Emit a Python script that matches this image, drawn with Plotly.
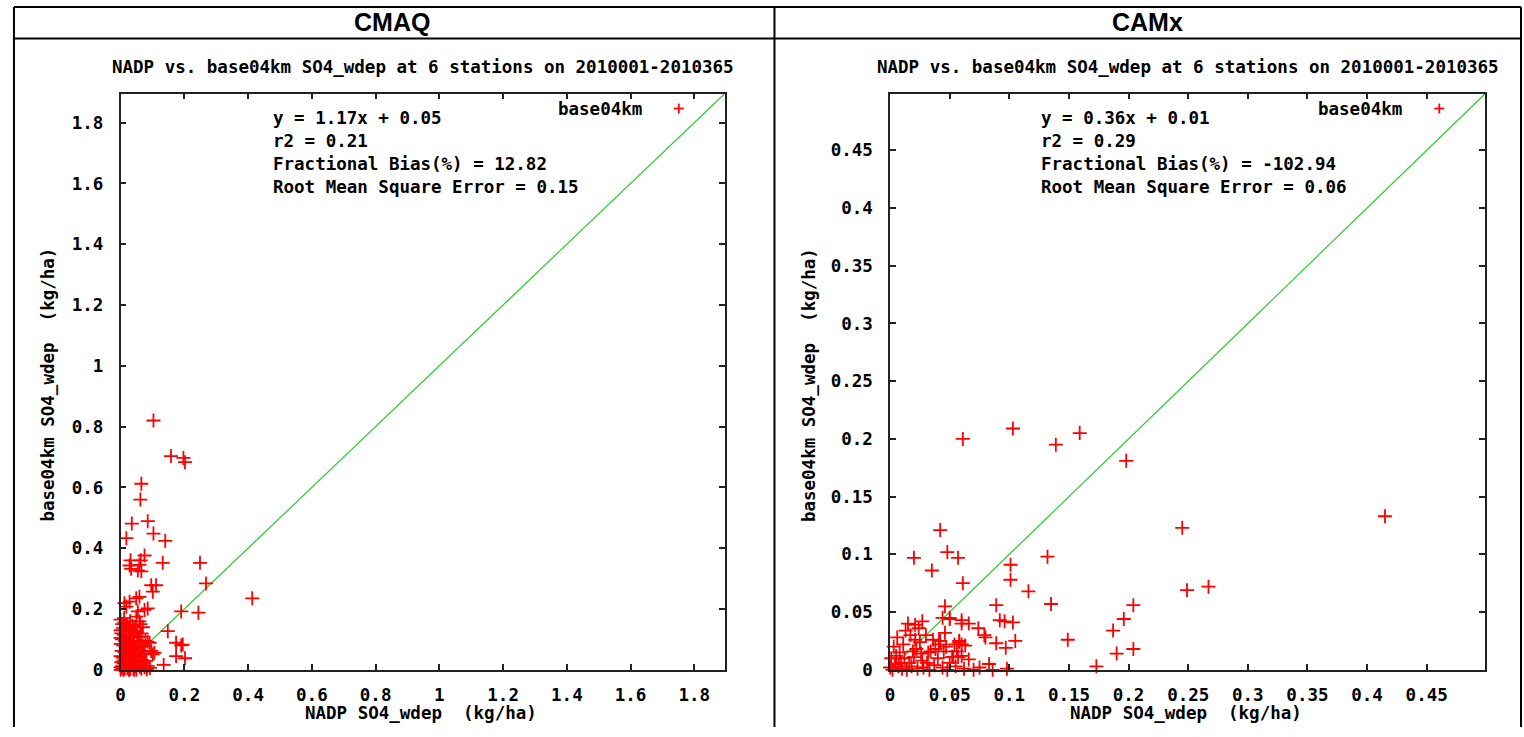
import plotly.graph_objects as go

W, H = 1524, 737

# ---- CMAQ: NADP observed vs. base04km modelled SO4 wet deposition (kg/ha)
cmaq_obs = [
    0.103, 0.158, 0.197, 0.202, 0.065, 0.062, 0.035, 0.085, 0.018, 0.103,
    0.140, 0.075, 0.031, 0.063, 0.132, 0.249, 0.028, 0.059, 0.033, 0.054,
    0.065, 0.268, 0.413, 0.096, 0.111, 0.101, 0.059, 0.049, 0.028, 0.012,
    0.018, 0.085, 0.075, 0.054, 0.049, 0.059, 0.190, 0.244, 0.148, 0.174,
    0.195, 0.190, 0.174, 0.202, 0.135, 0.096, 0.101, 0.106, 0.085, 0.091,
    0.080, 0.085,
    0.000, 0.005, 0.012, 0.020, 0.030, 0.008, 0.015, 0.025, 0.035, 0.045,
    0.002, 0.010, 0.018, 0.028, 0.040, 0.050, 0.060, 0.004, 0.014, 0.022,
    0.032, 0.042, 0.055, 0.065, 0.072, 0.000, 0.008, 0.016, 0.026, 0.036,
    0.046, 0.058, 0.068, 0.003, 0.012, 0.020, 0.030, 0.040, 0.050, 0.062,
    0.000, 0.007, 0.015, 0.024, 0.034, 0.044, 0.054, 0.070, 0.002, 0.010,
    0.018, 0.027, 0.037, 0.048, 0.060, 0.075, 0.000, 0.006, 0.013, 0.021,
    0.030, 0.040, 0.050, 0.065, 0.082, 0.000, 0.004, 0.009, 0.017, 0.023,
    0.033, 0.038, 0.052, 0.066, 0.011, 0.000, 0.000, 0.029, 0.045, 0.056,
    0.078, 0.070, 0.062, 0.026, 0.043, 0.009, 0.092, 0.058, 0.076, 0.019,
]
cmaq_mod = [
    0.820, 0.703, 0.697, 0.683, 0.612, 0.560, 0.481, 0.489, 0.433, 0.448,
    0.424, 0.376, 0.360, 0.360, 0.352, 0.352, 0.343, 0.345, 0.332, 0.327,
    0.324, 0.284, 0.235, 0.278, 0.278, 0.257, 0.240, 0.235, 0.224, 0.219,
    0.208, 0.202, 0.197, 0.192, 0.175, 0.159, 0.192, 0.188, 0.127, 0.089,
    0.083, 0.080, 0.045, 0.038, 0.016, 0.062, 0.051, 0.056, 0.092, 0.089,
    0.029, 0.013,
    0.165, 0.150, 0.155, 0.148, 0.160, 0.138, 0.130, 0.135, 0.128, 0.140,
    0.120, 0.115, 0.110, 0.118, 0.112, 0.125, 0.108, 0.100, 0.095, 0.098,
    0.092, 0.088, 0.095, 0.085, 0.078, 0.085, 0.080, 0.075, 0.082, 0.070,
    0.072, 0.065, 0.060, 0.062, 0.058, 0.065, 0.055, 0.050, 0.048, 0.042,
    0.045, 0.040, 0.038, 0.042, 0.035, 0.030, 0.028, 0.022, 0.025, 0.020,
    0.022, 0.018, 0.015, 0.012, 0.010, 0.008, 0.008, 0.005, 0.003, 0.006,
    0.002, 0.004, 0.001, 0.003, 0.002, 0.000, 0.012, 0.030, 0.050, 0.070,
    0.105, 0.145, 0.110, 0.120, 0.170, 0.130, 0.105, 0.028, 0.060, 0.078,
    0.095, 0.140, 0.150, 0.000, 0.000, 0.000, 0.006, 0.034, 0.052, 0.088,
]

# ---- CAMx: NADP observed vs. base04km modelled SO4 wet deposition (kg/ha)
camx_obs = [
    0.103, 0.061, 0.159, 0.139, 0.198, 0.042, 0.020, 0.035, 0.048, 0.057,
    0.061, 0.101, 0.101, 0.132, 0.116, 0.135, 0.089, 0.092, 0.096, 0.103,
    0.105, 0.089, 0.097, 0.149, 0.173, 0.187, 0.196, 0.204, 0.190, 0.204,
    0.074, 0.079, 0.080, 0.066, 0.060, 0.060, 0.046, 0.044, 0.050, 0.058,
    0.060, 0.066, 0.083, 0.098, 0.041, 0.052, 0.057, 0.245, 0.249, 0.267,
    0.415,
    0.027, 0.021, 0.024, 0.013, 0.006, 0.021, 0.042, 0.041, 0.034, 0.032,
    0.038, 0.054, 0.058, 0.063, 0.053, 0.060, 0.022, 0.020, 0.027, 0.050,
    0.003, 0.008, 0.012, 0.016, 0.004, 0.000, 0.002, 0.007, 0.010, 0.014,
    0.018, 0.023, 0.028, 0.033, 0.037, 0.044, 0.048, 0.055, 0.062, 0.070,
    0.075, 0.086, 0.001, 0.005, 0.011, 0.017, 0.015, 0.030, 0.036, 0.046,
    0.026, 0.031, 0.040, 0.045, 0.050, 0.009, 0.019, 0.025, 0.047, 0.056,
]
camx_mod = [
    0.209, 0.200, 0.205, 0.195, 0.181, 0.121, 0.097, 0.086, 0.102, 0.097,
    0.075, 0.091, 0.078, 0.098, 0.068, 0.057, 0.056, 0.043, 0.042, 0.041,
    0.025, 0.023, 0.019, 0.026, 0.003, 0.034, 0.044, 0.056, 0.014, 0.018,
    0.036, 0.030, 0.028, 0.040, 0.043, 0.040, 0.055, 0.045, 0.045, 0.025,
    0.022, 0.009, 0.005, 0.001, 0.025, 0.011, 0.011, 0.123, 0.069, 0.072,
    0.133,
    0.042, 0.039, 0.036, 0.034, 0.028, 0.026, 0.025, 0.022, 0.016, 0.015,
    0.018, 0.022, 0.024, 0.021, 0.011, 0.012, 0.018, 0.011, 0.008, 0.044,
    0.020, 0.015, 0.010, 0.006, 0.005, 0.002, 0.000, 0.003, 0.001, 0.000,
    0.003, 0.001, 0.002, 0.000, 0.004, 0.002, 0.000, 0.003, 0.001, 0.000,
    0.002, 0.000, 0.010, 0.012, 0.022, 0.030, 0.040, 0.030, 0.026, 0.032,
    0.014, 0.006, 0.010, 0.016, 0.006, 0.006, 0.016, 0.024, 0.020, 0.016,
]

# axis extents (same on x and y, so the 1:1 line runs corner to corner)
cmaq_max = 1.895
camx_max = 0.499
cmaq_dtick = 0.2
camx_dtick = 0.05

model_names = ["CMAQ", "CAMx"]
series_name = "base04km"
plot_title = "NADP vs. base04km SO4_wdep at 6 stations on 2010001-2010365"
x_title = "NADP SO4_wdep\u00a0\u00a0(kg/ha)"
y_title = "base04km SO4_wdep\u00a0\u00a0(kg/ha)"
cmaq_stats = ["y = 1.17x + 0.05", "r2 = 0.21",
              "Fractional Bias(%) = 12.82", "Root Mean Square Error = 0.15"]
camx_stats = ["y = 0.36x + 0.01", "r2 = 0.29",
              "Fractional Bias(%) = -102.94", "Root Mean Square Error = 0.06"]

MONO = "DejaVu Sans Mono"
FS = 17.5
RED = "#ff0000"
GREEN = "#2ec82e"
AXIS = "#222222"


def fx(p):
    return p / W


def fy(p):
    return 1 - p / H


def mono(size=FS):
    return dict(family=MONO, size=size, color="black", weight="bold")


# pixel frames of the two plotting areas: (left, right, top, bottom)
frames = [(116, 722, 95, 679), (888, 1485, 95, 679)]
ytitle_gap = [73, 82]
cell_centres = [388, 1146]
stats_left = [267, 1037]

fig = go.Figure()

panels = [
    (cmaq_obs, cmaq_mod, cmaq_max, cmaq_dtick, cmaq_stats),
    (camx_obs, camx_mod, camx_max, camx_dtick, camx_stats),
]

annotations = []
shapes = []

for i, (obs, mod, vmax, dt, stats) in enumerate(panels):
    xa = "x" if i == 0 else "x2"
    ya = "y" if i == 0 else "y2"
    left, right, top, bottom = frames[i]

    # 1:1 reference line
    fig.add_trace(go.Scatter(
        x=[0, vmax], y=[0, vmax], mode="lines", xaxis=xa, yaxis=ya,
        line=dict(color=GREEN, width=1.2), showlegend=False, hoverinfo="skip",
    ))
    # station samples
    fig.add_trace(go.Scatter(
        x=obs, y=mod, mode="markers", xaxis=xa, yaxis=ya, name=series_name,
        marker=dict(symbol="cross-thin", size=10, color=RED,
                    line=dict(color=RED, width=1.8)),
        cliponaxis=False, showlegend=False,
    ))

    axis_common = dict(
        showgrid=False, zeroline=False, showline=True, linecolor=AXIS,
        linewidth=1.5, mirror="ticks", ticks="inside", ticklen=6,
        tickwidth=1.5, tickcolor=AXIS, dtick=dt, tick0=0,
        tickfont=mono(), range=[0, vmax], fixedrange=True,
    )
    xdom = [fx(left), fx(right)]
    ydom = [fy(bottom), fy(top)]
    fig.update_layout({
        ("xaxis" if i == 0 else "xaxis2"): dict(
            axis_common, domain=xdom, anchor=ya, ticklabelstandoff=8),
        ("yaxis" if i == 0 else "yaxis2"): dict(
            axis_common, domain=ydom, anchor=xa, ticklabelstandoff=12),
    })

    cx = (left + right) / 2

    # cell header
    annotations.append(dict(
        x=fx(cell_centres[i]), y=fy(22), xref="paper", yref="paper",
        text=model_names[i], showarrow=False, xanchor="center", yanchor="middle",
        font=dict(family="Liberation Sans", size=25, color="black", weight="bold"),
    ))
    # plot title
    annotations.append(dict(
        x=fx(cx), y=fy(68), xref="paper", yref="paper", text=plot_title,
        showarrow=False, xanchor="center", yanchor="middle", font=mono(),
    ))
    # axis titles
    annotations.append(dict(
        x=fx(cx - 2), y=fy(723), xref="paper", yref="paper", text=x_title,
        showarrow=False, xanchor="center", yanchor="middle", font=mono(),
    ))
    annotations.append(dict(
        x=fx(left - ytitle_gap[i]), y=fy(390), xref="paper", yref="paper",
        text=y_title, showarrow=False, xanchor="center", yanchor="middle",
        textangle=-90, font=mono(),
    ))
    # regression statistics
    for k, line in enumerate(stats):
        annotations.append(dict(
            x=fx(stats_left[i]), y=fy(120 + k * 23.3), xref="paper",
            yref="paper", text=line, showarrow=False, xanchor="left",
            yanchor="middle", font=mono(),
        ))
    # key: label followed by the point symbol
    annotations.append(dict(
        x=fx(right - 81), y=fy(111), xref="paper", yref="paper",
        text=series_name, showarrow=False, xanchor="right", yanchor="middle",
        font=mono(),
    ))
    sym_x, sym_y, arm = right - 46, 110, 5
    shapes.append(dict(type="line", xref="paper", yref="paper",
                       x0=fx(sym_x - arm), x1=fx(sym_x + arm),
                       y0=fy(sym_y), y1=fy(sym_y),
                       line=dict(color=RED, width=1.8)))
    shapes.append(dict(type="line", xref="paper", yref="paper",
                       x0=fx(sym_x), x1=fx(sym_x),
                       y0=fy(sym_y - arm), y1=fy(sym_y + arm),
                       line=dict(color=RED, width=1.8)))

# table rules around the two cells
rule = dict(color="black", width=2)
for (x0, y0, x1, y1) in [(9, 7, 1521, 7), (9, 39, 1521, 39),
                         (9, 7, 9, 737), (772, 7, 772, 737),
                         (1521, 7, 1521, 737)]:
    shapes.append(dict(type="line", xref="paper", yref="paper",
                       x0=fx(x0), x1=fx(x1), y0=fy(y0), y1=fy(y1), line=rule))

fig.update_layout(
    width=W, height=H, margin=dict(l=0, r=0, t=0, b=0),
    paper_bgcolor="white", plot_bgcolor="white",
    showlegend=False, annotations=annotations, shapes=shapes,
)

fig.write_html("out.html", config={"displayModeBar": False})
